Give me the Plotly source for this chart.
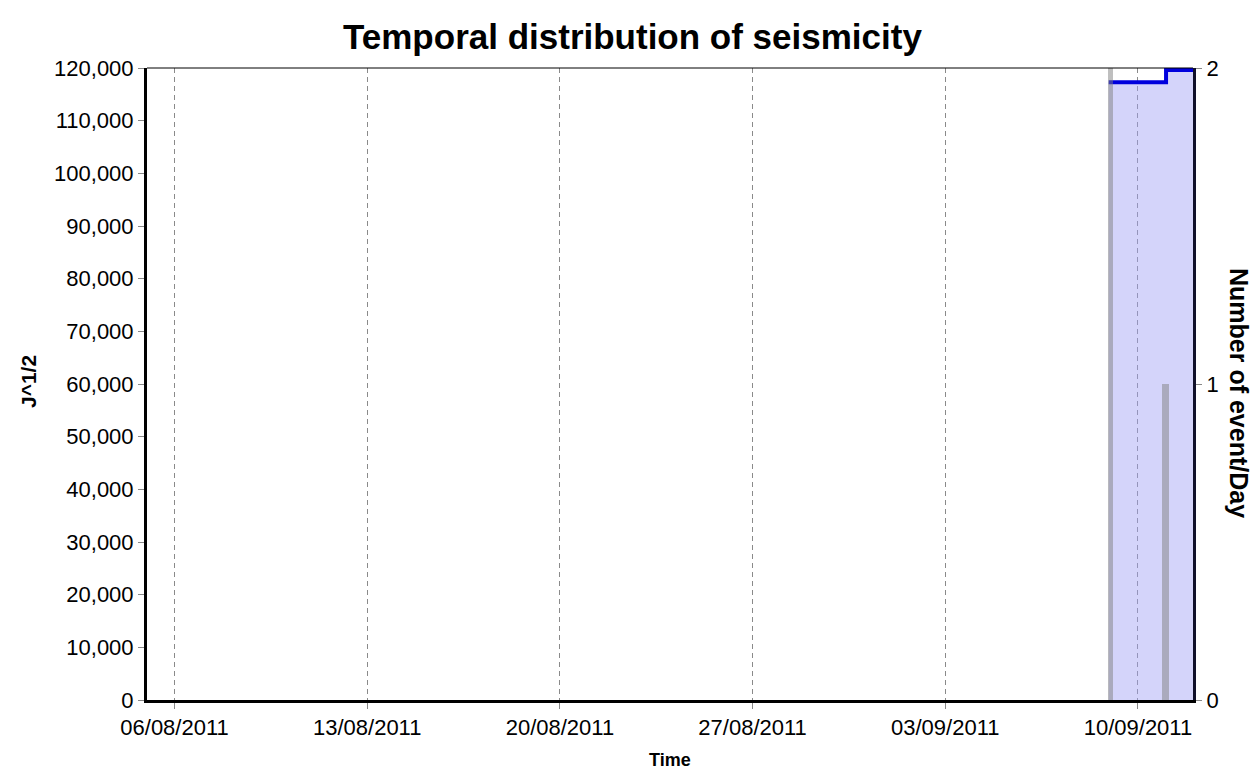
import plotly.graph_objects as go

# ---- data ----
event_days = ["2011-09-09", "2011-09-11"]
events_per_day = [2, 1]

cum_times = ["2011-09-08 22:30", "2011-09-11 00:30", "2011-09-12 00:00"]
cum_energy = [117300, 119600, 119600]

x_range = ["2011-08-05", "2011-09-12"]
x_tick_vals = ["2011-08-06", "2011-08-13", "2011-08-20", "2011-08-27", "2011-09-03", "2011-09-10"]
x_tick_text = ["06/08/2011", "13/08/2011", "20/08/2011", "27/08/2011", "03/09/2011", "10/09/2011"]

title_text = "Temporal distribution of seismicity"
y_title = "J^1/2"
y2_title = "Number of event/Day"
x_title = "Time"

L, R, T, B = 147, 1193, 68, 700
W, H = 1255, 773

def px_x(p):
    return (p - L) / (R - L)

def px_y(p):
    return (B - p) / (B - T)

fig = go.Figure()

fig.add_trace(go.Scatter(
    x=cum_times, y=cum_energy, mode="lines", line=dict(color="#0000dd", width=4, shape="hv"),
    fill="tozeroy", fillcolor="rgba(160,160,245,0.45)", yaxis="y", showlegend=False,
))

fig.add_trace(go.Bar(
    x=event_days, y=events_per_day, width=[0.19 * 86400000, 0.26 * 86400000],
    marker=dict(color="rgba(128,128,128,0.5)", line=dict(width=0)),
    yaxis="y2", showlegend=False,
))

tickfont = dict(family="Liberation Sans, Arial, sans-serif", size=22, color="#000")

fig.update_layout(
    width=W, height=H,
    margin=dict(l=L, r=W - R, t=T, b=H - B),
    paper_bgcolor="white", plot_bgcolor="white",
    bargap=0,
    xaxis=dict(
        type="date", range=x_range, tickvals=x_tick_vals, ticktext=x_tick_text,
        showgrid=True, gridcolor="#8a8a8a", griddash="5px,4px", gridwidth=1,
        showline=True, linecolor="black", linewidth=3,
        ticks="outside", ticklen=6, tickcolor="#888", tickfont=tickfont,
        zeroline=False, fixedrange=True,
    ),
    yaxis=dict(
        range=[0, 120000], dtick=10000, tickformat=",",
        showgrid=False, zeroline=False,
        showline=True, linecolor="black", linewidth=3,
        ticks="outside", ticklen=6, tickcolor="#888", tickfont=tickfont,
    ),
    yaxis2=dict(
        range=[0, 2], dtick=1, overlaying="y", side="right",
        showgrid=False, zeroline=False,
        showline=True, linecolor="#10102a", linewidth=3,
        ticks="outside", ticklen=6, tickcolor="#888", tickfont=tickfont,
    ),
    shapes=[dict(type="line", xref="paper", yref="paper", x0=0, x1=1, y0=1, y1=1,
                 line=dict(color="black", width=1))],
    annotations=[
        dict(text=title_text, xref="paper", yref="paper", x=px_x(632), y=px_y(37),
             showarrow=False, xanchor="center", yanchor="middle",
             font=dict(family="Liberation Sans, Arial, sans-serif", size=35, color="#000", weight="bold")),
        dict(text=y_title, xref="paper", yref="paper", x=px_x(28), y=px_y(382),
             showarrow=False, textangle=-90, xanchor="center", yanchor="middle",
             font=dict(family="Liberation Sans, Arial, sans-serif", size=21, color="#000", weight="bold")),
        dict(text=y2_title, xref="paper", yref="paper", x=px_x(1239), y=px_y(393),
             showarrow=False, textangle=90, xanchor="center", yanchor="middle",
             font=dict(family="Liberation Sans, Arial, sans-serif", size=25, color="#000", weight="bold")),
        dict(text=x_title, xref="paper", yref="paper", x=px_x(670), y=px_y(760),
             showarrow=False, xanchor="center", yanchor="middle",
             font=dict(family="Liberation Sans, Arial, sans-serif", size=18, color="#000", weight="bold")),
    ],
)

fig.write_html("out.html", config={"displayModeBar": False},
               post_script="document.body.style.margin='0';")
